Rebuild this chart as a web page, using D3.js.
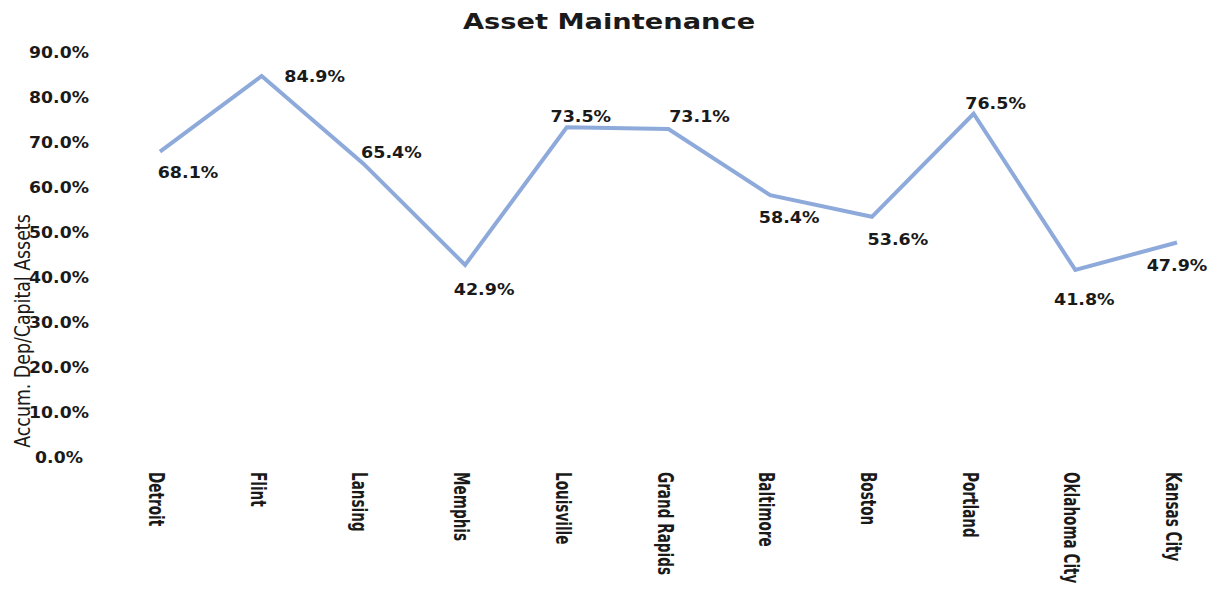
<!DOCTYPE html>
<html>
<head>
<meta charset="utf-8">
<script src="https://cdn.jsdelivr.net/npm/d3@7"></script>
<style>
  html, body { margin: 0; padding: 0; background: #fff; }
  svg { display: block; }
</style>
</head>
<body>
<svg id="chart" width="1217" height="593"></svg>
<script>
const title = "Asset Maintenance";
const yAxisTitle = "Accum. Dep/Capital Assets";
const categories = ["Detroit", "Flint", "Lansing", "Memphis", "Louisville", "Grand Rapids",
  "Baltimore", "Boston", "Portland", "Oklahoma City", "Kansas City"];
const values = [68.1, 84.9, 65.4, 42.9, 73.5, 73.1, 58.4, 53.6, 76.5, 41.8, 47.9];
const tickValues = [0, 10, 20, 30, 40, 50, 60, 70, 80, 90];
const tickLabels = ["0.0%", "10.0%", "20.0%", "30.0%", "40.0%", "50.0%", "60.0%", "70.0%", "80.0%", "90.0%"];

// label placement (style): offset of each data label centre from its point
const labelOffsets = [[28, 21], [53, 1], [28, -11], [19, 25], [14, -10], [31, -12],
  [19, 23], [26, 23], [22, -10], [9, 30], [0, 23]];

const svg = d3.select("#chart");
const W = 1217, H = 593;
svg.append("rect").attr("width", W).attr("height", H).attr("fill", "#fff");

const x = d3.scalePoint().domain(categories).range([160, 1177]);
const y = d3.scaleLinear().domain([0, 90]).range([458, 53]);

const wideFont = "'DejaVu Sans', Verdana, sans-serif";
const narrowFont = "'Liberation Sans Narrow', 'DejaVu Sans Condensed', 'Arial Narrow', sans-serif";

// Title
svg.append("text")
  .attr("transform", "translate(609,29) scale(1.24,1)")
  .attr("text-anchor", "middle")
  .attr("font-family", wideFont)
  .attr("font-weight", "bold")
  .attr("font-size", 22)
  .attr("fill", "#1a1a1a")
  .text(title);

// Y axis (labels only)
const yAxis = d3.axisLeft(y).tickValues(tickValues).tickSize(0).tickPadding(0)
  .tickFormat((d, i) => tickLabels[i]);
const gy = svg.append("g").attr("transform", "translate(59,0)").call(yAxis);
gy.select(".domain").remove();
gy.selectAll("text")
  .attr("text-anchor", "middle")
  .attr("x", 0)
  .attr("transform", "scale(1.15,1)")
  .attr("font-family", wideFont)
  .attr("font-weight", "bold")
  .attr("font-size", 15)
  .attr("fill", "#1a1a1a");

// Y axis title
svg.append("text")
  .attr("transform", "translate(30,331) rotate(-90) scale(0.92,1)")
  .attr("text-anchor", "middle")
  .attr("font-family", narrowFont)
  .attr("font-size", 21)
  .attr("fill", "#1a1a1a")
  .text(yAxisTitle);

// X axis (category labels, rotated)
const xAxis = d3.axisBottom(x).tickSize(0).tickPadding(0);
const gx = svg.append("g").attr("transform", "translate(0,472)").call(xAxis);
gx.select(".domain").remove();
gx.selectAll("text")
  .attr("x", 0).attr("y", 0).attr("dy", null)
  .attr("transform", "translate(-4,0) rotate(90) scale(0.72,1)")
  .attr("text-anchor", "start")
  .attr("dominant-baseline", "central")
  .attr("font-family", narrowFont)
  .attr("font-weight", "bold")
  .attr("font-size", 21)
  .attr("fill", "#1a1a1a");

// Line
const data = categories.map((c, i) => ({ c, v: values[i], i }));
const line = d3.line().x(d => x(d.c)).y(d => y(d.v));
svg.append("path")
  .datum(data)
  .attr("d", line)
  .attr("fill", "none")
  .attr("stroke", "#8eaadb")
  .attr("stroke-width", 4)
  .attr("stroke-linejoin", "miter");

// Data labels
svg.append("g").selectAll("text")
  .data(data)
  .join("text")
  .attr("transform", d => `translate(${x(d.c) + labelOffsets[d.i][0]},${y(d.v) + labelOffsets[d.i][1]}) scale(1.13,1)`)
  .attr("text-anchor", "middle")
  .attr("dominant-baseline", "central")
  .attr("font-family", wideFont)
  .attr("font-weight", "bold")
  .attr("font-size", 15.5)
  .attr("fill", "#1a1a1a")
  .text(d => d.v.toFixed(1) + "%");
</script>
</body>
</html>
